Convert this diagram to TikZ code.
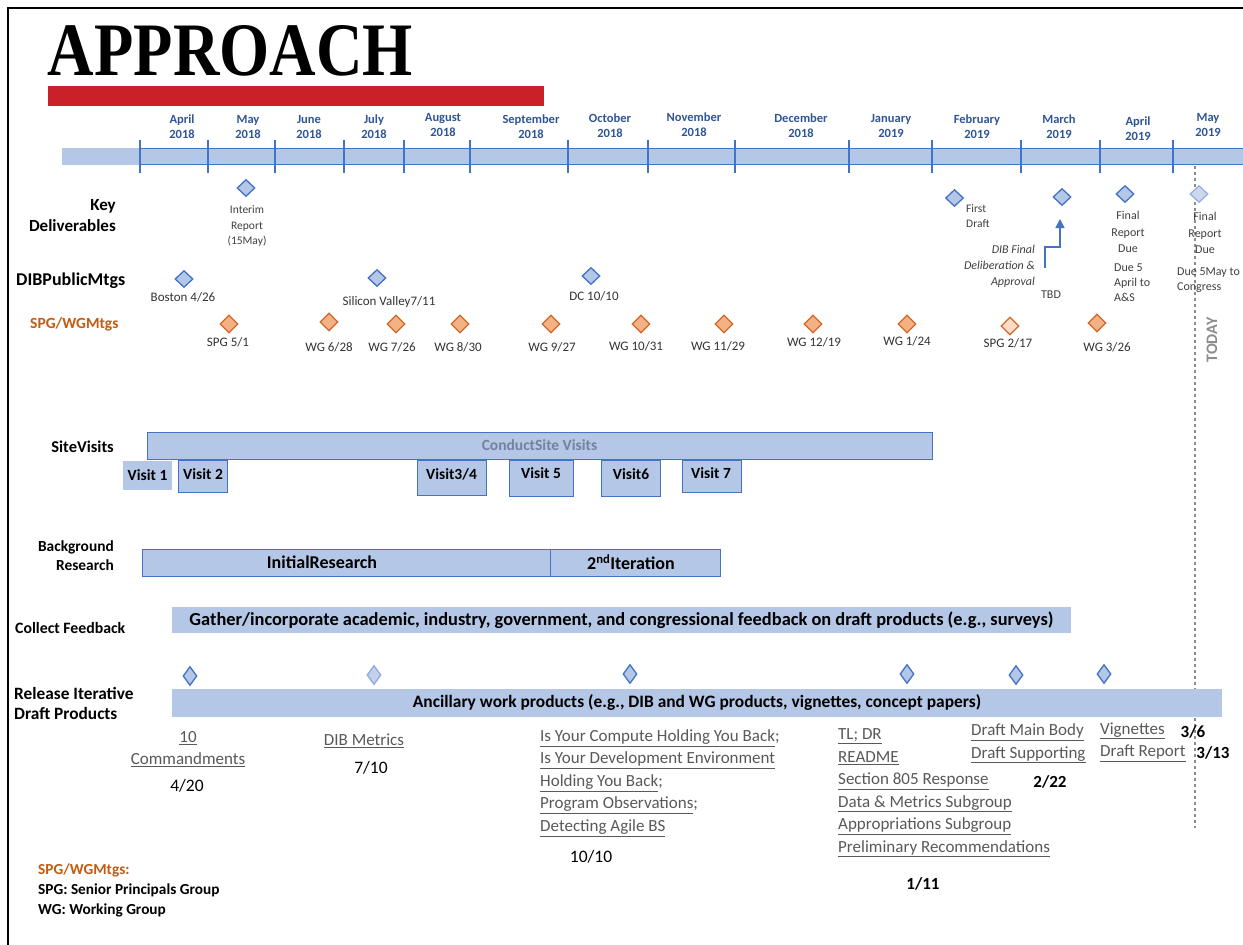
\documentclass[tikz,border=0pt]{standalone}
\usepackage{fontspec}
\setmainfont{Carlito}
\newfontfamily\titlefont{Liberation Serif}
\usetikzlibrary{shapes.geometric,arrows.meta}
\definecolor{barblue}{HTML}{B4C7E7}
\definecolor{lineblue}{HTML}{4472C4}
\definecolor{monthblue}{HTML}{2F5597}
\definecolor{orgtext}{HTML}{C55A11}
\definecolor{orgfill}{HTML}{F4B183}
\definecolor{orgline}{HTML}{D0682A}
\definecolor{redbar}{HTML}{C9202A}
\definecolor{graytxt}{HTML}{595959}
\definecolor{todaygray}{HTML}{8C8C8C}
\definecolor{conducttxt}{HTML}{74819F}
\definecolor{smalltxt}{HTML}{404040}
\newcommand\fsz[2]{\fontsize{#1}{#2}\selectfont}
\newcommand\ul[1]{\underline{#1}}
\tikzset{
  bdia/.style={diamond, draw=lineblue, fill=barblue, line width=1.3pt, minimum width=18pt, minimum height=17pt, inner sep=0pt},
  ldia/.style={bdia, draw=lineblue!55, fill=barblue!70},
  rdia/.style={bdia, minimum width=14pt, minimum height=19pt},
  odia/.style={diamond, draw=orgline, fill=orgfill, line width=1.3pt, minimum width=18pt, minimum height=18pt, inner sep=0pt},
  month/.style={font=\bfseries\fsz{12.5}{15}, text=monthblue, align=center, inner sep=0pt},
  rowlbl/.style={font=\bfseries\fsz{16}{20}, inner sep=0pt},
  small/.style={font=\fsz{11.5}{15.5}, text=smalltxt, align=center, inner sep=0pt},
  mtg/.style={font=\fsz{13}{16}, text=black!80, inner sep=0pt},
  fillbar/.style={fill=barblue, draw=none, inner sep=0pt},
  boxbar/.style={fill=barblue, draw=lineblue, line width=1pt, inner sep=0pt},
  vtxt/.style={font=\bfseries\fsz{15.5}{17}, inner sep=0pt},
  prod/.style={font=\fsz{17}{22.5}, text=graytxt, align=left, inner sep=0pt, anchor=west},
  datelbl/.style={font=\fsz{17.5}{20}, inner sep=0pt},
  bdate/.style={font=\bfseries\fsz{17}{20}, inner sep=0pt},
}
\begin{document}
\begin{tikzpicture}[x=1pt,y=-1pt]
\useasboundingbox (0,0) rectangle (1243,945);
\fill[white] (0,0) rectangle (1243,945);
% frame
\draw[line width=2pt] (8,945) -- (8,8) -- (1243,8);
% title
\node[inner sep=0pt] (title) at (230.5,50.5) {\resizebox{365pt}{50pt}{\titlefont\bfseries APPROACH}};
\node[fill=redbar, minimum width=496pt, minimum height=20pt, inner sep=0pt] (redbar) at (296,96) {};
% timeline
\node[fillbar, minimum width=1181pt, minimum height=17pt] (tline) at (652.5,156.5) {};
\draw[lineblue, line width=1.2pt] (140,148.5) -- (1243,148.5);
\draw[lineblue, line width=1.2pt] (140,164.5) -- (1243,164.5);
\foreach \x in {140,208,275,344,404,470,568,648,735,849,932,1021,1100,1173}
  \draw[lineblue, line width=2pt] (\x,140) -- (\x,173);
% months
\node[month] (m1) at (182,127) {April\\2018};
\node[month] (m2) at (248,127) {May\\2018};
\node[month] (m3) at (309,127) {June\\2018};
\node[month] (m4) at (374,127) {July\\2018};
\node[month] (m5) at (443,125) {August\\2018};
\node[month] (m6) at (531,127) {September\\2018};
\node[month] (m7) at (610,126) {October\\2018};
\node[month] (m8) at (694,125) {November\\2018};
\node[month] (m9) at (801,126) {December\\2018};
\node[month] (m10) at (891,126) {January\\2019};
\node[month] (m11) at (977,127) {February\\2019};
\node[month] (m12) at (1059,127) {March\\2019};
\node[month] (m13) at (1138,129) {April\\2019};
\node[month] (m14) at (1208,125) {May\\2019};
% today line
\coordinate (todayTop) at (1195,166);
\coordinate (todayBot) at (1195,828);
\draw[todaygray, dashed, line width=1.2pt] (todayTop) -- (todayBot);
\node[rotate=90, font=\bfseries\fsz{16}{18}, text=todaygray, inner sep=0pt] (today) at (1212,340) {TODAY};
% row labels
\node[rowlbl, align=right, anchor=east, font=\bfseries\fsz{17}{21}] (lkey) at (116,216) {Key\\Deliverables};
\node[rowlbl, anchor=west, font=\bfseries\fsz{18}{21}] (ldib) at (16,281) {DIBPublicMtgs};
\node[rowlbl, anchor=west, text=orgtext, font=\bfseries\fsz{15.5}{19}] (lspg) at (30,324) {SPG/WGMtgs};
\node[rowlbl, anchor=east, font=\bfseries\fsz{16.5}{19}] (lsite) at (114,447) {SiteVisits};
\node[rowlbl, align=right, anchor=east, font=\bfseries\fsz{15.4}{19}] (lback) at (114,556) {Background\\Research};
\node[rowlbl, anchor=west, font=\bfseries\fsz{15.8}{19}] (lfeed) at (15,628) {Collect Feedback};
\node[rowlbl, align=left, anchor=west, font=\bfseries\fsz{17.3}{20}] (lrel) at (14,703) {Release Iterative\\Draft Products};
% key deliverables
\node[bdia] (kd1) at (246,188) {};
\node[small] (kd1t) at (247,226) {Interim\\Report\\(15May)};
\node[bdia] (kd2) at (954.5,198) {};
\node[small, align=left, anchor=west] (kd2t) at (966,216) {First\\Draft};
\node[bdia] (kd3) at (1062,197) {};
\coordinate (arrStart) at (1045,268);
\coordinate (arrTip) at (1060,219);
\draw[lineblue, line width=1.5pt, -{Triangle[length=9pt,width=9pt]}] (arrStart) -- ++(0,-21) -| (arrTip);
\node[small, font=\itshape\fsz{12}{16}, align=right, anchor=east] (kd3t) at (1035,266) {DIB Final\\Deliberation \&\\Approval};
\node[small, font=\fsz{12}{16}] (tbd) at (1051,295) {TBD};
\node[bdia] (kd4) at (1125,194) {};
\node[small, font=\fsz{12}{16.5}] (kd4t) at (1128,232) {Final\\Report\\Due};
\node[small, font=\fsz{12}{15}, align=left, anchor=west] (kd4u) at (1114,283) {Due 5\\April to\\A\&S};
\node[ldia] (kd5) at (1199,194) {};
\node[small, font=\fsz{12}{16.5}] (kd5t) at (1205,233) {Final\\Report\\Due};
\node[small, font=\fsz{12}{15}, align=left, anchor=west] (kd5u) at (1177,280) {Due 5May to\\Congress};
% DIB public meetings
\node[bdia] (d1) at (184,279) {};
\node[mtg] (d1t) at (183,297) {Boston 4/26};
\node[bdia] (d2) at (377,278) {};
\node[mtg] (d2t) at (389,302) {Silicon Valley7/11};
\node[bdia] (d3) at (591,276) {};
\node[mtg] (d3t) at (594,296) {DC 10/10};
% SPG/WG meetings
\node[odia] (o1) at (229,324) {};   \node[mtg] (o1t) at (228,342) {SPG 5/1};
\node[odia] (o2) at (329,322) {};   \node[mtg] (o2t) at (329,347) {WG 6/28};
\node[odia] (o3) at (396,324) {};   \node[mtg] (o3t) at (392,347) {WG 7/26};
\node[odia] (o4) at (460,324) {};   \node[mtg] (o4t) at (458,347) {WG 8/30};
\node[odia] (o5) at (551,324) {};   \node[mtg] (o5t) at (552,347) {WG 9/27};
\node[odia] (o6) at (641,324) {};   \node[mtg] (o6t) at (636,346) {WG 10/31};
\node[odia] (o7) at (724,324) {};   \node[mtg] (o7t) at (718,346) {WG 11/29};
\node[odia] (o8) at (813,324) {};   \node[mtg] (o8t) at (814,342) {WG 12/19};
\node[odia] (o9) at (907,324) {};   \node[mtg] (o9t) at (907,341) {WG 1/24};
\node[odia, fill=orgfill!45] (o10) at (1010,326) {}; \node[mtg] (o10t) at (1008,343) {SPG 2/17};
\node[odia] (o11) at (1097,323) {};  \node[mtg] (o11t) at (1107,347) {WG 3/26};
% site visits
\node[boxbar, minimum width=785pt, minimum height=27pt, font=\bfseries\fsz{15.5}{17}, text=conducttxt] (conduct) at (539.5,445.5) {ConductSite Visits};
\node[fillbar, minimum width=49pt, minimum height=29pt] (v1) at (147.5,475.5) {};
\node[vtxt] (v1t) at (147.5,475) {Visit 1};
\node[boxbar, minimum width=49pt, minimum height=32pt] (v2) at (202.5,476) {};
\node[vtxt] (v2t) at (203,474) {Visit 2};
\node[boxbar, minimum width=69pt, minimum height=35pt] (v3) at (451.5,477.5) {};
\node[vtxt] (v3t) at (451.5,474) {Visit3/4};
\node[boxbar, minimum width=64pt, minimum height=36pt] (v5) at (541,478) {};
\node[vtxt] (v5t) at (541,473) {Visit 5};
\node[boxbar, minimum width=59pt, minimum height=36pt] (v6) at (630.5,478) {};
\node[vtxt] (v6t) at (631,474) {Visit6};
\node[boxbar, minimum width=59pt, minimum height=32pt] (v7) at (711.5,476) {};
\node[vtxt] (v7t) at (711,473) {Visit 7};
% background research
\node[boxbar, minimum width=408pt, minimum height=27pt, font=\bfseries\fsz{18}{20}] (init) at (346,562.5) {\hspace*{-48pt}InitialResearch};
\node[boxbar, minimum width=170pt, minimum height=27pt, font=\bfseries\fsz{18}{20}] (iter) at (635,562.5) {\hspace*{-8pt}2\textsuperscript{nd}Iteration};
% feedback
\node[fillbar, minimum width=899pt, minimum height=26pt, font=\bfseries\fsz{18.4}{20}] (feed) at (621.5,620) {Gather/incorporate academic, industry, government, and congressional feedback on draft products (e.g., surveys)};
% release
\node[rdia] (r1) at (190,676) {};
\node[rdia, draw=lineblue!60, fill=barblue!80] (r2) at (374,675) {};
\node[rdia] (r3) at (630,674) {};
\node[rdia] (r4) at (907,674) {};
\node[rdia] (r5) at (1016,675) {};
\node[rdia] (r6) at (1104,674) {};
\node[fillbar, minimum width=1050pt, minimum height=28pt, font=\bfseries\fsz{17.4}{19}] (anc) at (697,703) {Ancillary work products (e.g., DIB and WG products, vignettes, concept papers)};
% products
\node[prod, align=center, anchor=center] (p1) at (188,749) {\ul{10}\\\ul{Commandments}};
\node[datelbl] (p1d) at (187,786) {4/20};
\node[prod, anchor=center] (p2) at (364,741) {\ul{DIB Metrics}};
\node[datelbl] (p2d) at (371,768) {7/10};
\node[prod] (p3) at (540,783) {\ul{Is Your Compute Holding You Back};\\\ul{Is Your Development Environment}\\\ul{Holding You Back};\\\ul{Program Observations};\\\ul{Detecting Agile BS}};
\node[datelbl] (p3d) at (591,857) {10/10};
\node[prod] (p4) at (838,793) {\ul{TL; DR}\\\ul{README}\\\ul{Section 805 Response}\\\ul{Data \& Metrics Subgroup}\\\ul{Appropriations Subgroup}\\\ul{Preliminary Recommendations}};
\node[bdate] (p4d) at (923,884) {1/11};
\node[prod] (p5) at (971,743.5) {\ul{Draft Main Body}\\\ul{Draft Supporting}};
\node[bdate] (p5d) at (1050,782) {2/22};
\node[prod] (p6) at (1100,742) {\ul{Vignettes}\\\ul{Draft Report}};
\node[bdate] (p6d) at (1193,732) {3/6};
\node[bdate] (p6e) at (1213,753) {3/13};
% legend
\node[inner sep=0pt, anchor=west, align=left, font=\bfseries\fsz{15.3}{20}] (legend) at (38,890) {\textcolor{orgtext}{SPG/WGMtgs:}\\SPG: Senior Principals Group\\WG: Working Group};
\end{tikzpicture}
\end{document}
